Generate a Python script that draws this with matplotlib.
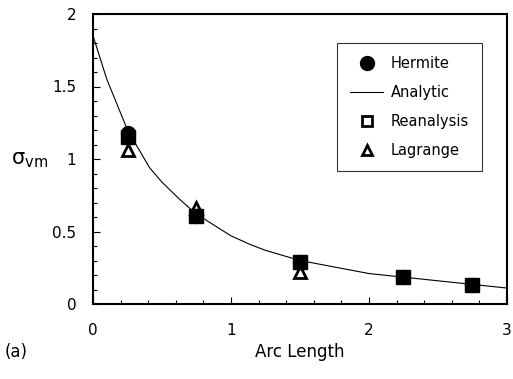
import matplotlib
matplotlib.use("Agg")
import matplotlib.pyplot as plt
from matplotlib.ticker import MultipleLocator

plt.rcParams['font.family'] = ['DejaVu Sans']

# Data
analytic_x = [0.0, 0.1, 0.22, 0.25, 0.41, 0.5, 0.63, 0.75, 1.0, 1.14, 1.25, 1.5, 2.0, 2.5, 3.0]
analytic_y = [1.85, 1.55, 1.27, 1.20, 0.94, 0.84, 0.72, 0.62, 0.47, 0.41, 0.37, 0.30, 0.21, 0.16, 0.11]

hermite_x = [0.25, 0.75, 1.5, 2.25, 2.75]
hermite_y = [1.18, 0.61, 0.29, 0.185, 0.13]

reanalysis_x = [0.25, 0.75, 1.5, 2.25, 2.75]
reanalysis_y = [1.15, 0.61, 0.29, 0.185, 0.13]

lagrange_x = [0.25, 0.75, 1.5]
lagrange_y = [1.06, 0.66, 0.22]

fig = plt.figure(figsize=(5.13, 3.79), dpi=100)
ax = fig.add_axes([93/513, 1-304/379, (507-93)/513, (304-14)/379])

ax.plot(analytic_x, analytic_y, '-', color='black', lw=0.8, zorder=2)
ax.plot(lagrange_x, lagrange_y, '^', ms=9, mfc='white', mec='black', mew=2, zorder=3)
ax.plot(hermite_x, hermite_y, 'o', ms=10, color='black', zorder=4)
ax.plot(reanalysis_x, reanalysis_y, 's', ms=10, color='black', zorder=5)

# legend handles
h1, = ax.plot([], [], 'o', ms=10, color='black', label='Hermite')
h2, = ax.plot([], [], '-', color='black', lw=0.8, label='Analytic')
h3, = ax.plot([], [], 's', ms=7, mfc='white', mec='black', mew=2, label='Reanalysis')
h4, = ax.plot([], [], '^', ms=7, mfc='white', mec='black', mew=2, label='Lagrange')
leg = ax.legend(handles=[h1, h2, h3, h4], loc='upper right', bbox_to_anchor=(0.94, 0.9),
                borderaxespad=0, fontsize=10.5, frameon=True, fancybox=False, edgecolor='black',
                handlelength=2.3, labelspacing=0.95, borderpad=0.9, handletextpad=0.5)
leg.get_frame().set_linewidth(0.8)

ax.set_xlim(0, 3)
ax.set_ylim(0, 2)
ax.xaxis.set_major_locator(MultipleLocator(1))
ax.xaxis.set_minor_locator(MultipleLocator(0.2))
ax.yaxis.set_major_locator(MultipleLocator(0.5))
ax.yaxis.set_minor_locator(MultipleLocator(0.1))
ax.tick_params(which='both', direction='in', top=False, right=False, labelsize=11)
ax.tick_params(axis='x', which='both', pad=14)
ax.tick_params(axis='y', which='both', pad=12)
ax.tick_params(which='major', length=5, width=0.8)
ax.tick_params(which='minor', length=3, width=0.8)
ax.set_xticks([0, 1, 2, 3])
ax.set_xticklabels(['0', '1', '2', '3'])
ax.set_yticks([0, 0.5, 1, 1.5, 2])
ax.set_yticklabels(['0', '0.5', '1', '1.5', '2'])
for s in ax.spines.values():
    s.set_linewidth(1.5)

ax.set_xlabel('Arc Length', fontsize=12, labelpad=3)
fig.text(11/513, 1-160/379, r'$\mathsf{\sigma}_{\mathsf{vm}}$', fontsize=15, ha='left', va='center')
fig.text(5/513, 1-352/379, '(a)', fontsize=12, ha='left', va='center')

fig.savefig('out.png', dpi=100)
